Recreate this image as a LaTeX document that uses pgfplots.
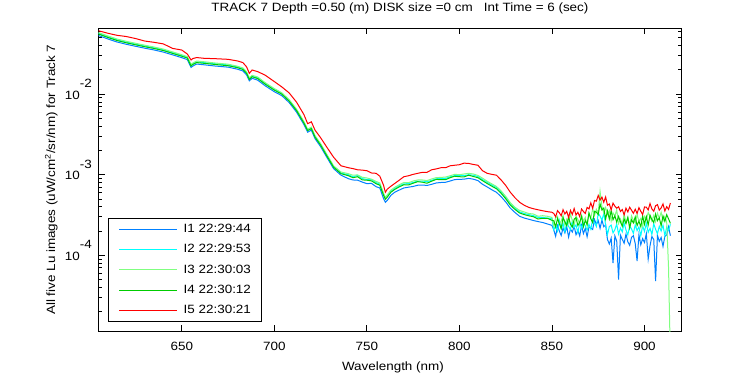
\documentclass[border=0pt]{standalone}
\usepackage{fontspec}
\setmainfont{Liberation Sans}[FakeStretch=1.12]
\usepackage{pgfplots}
\usepackage{pgfplotstable}
\pgfplotsset{compat=1.18}
\definecolor{cI1}{rgb}{0,0.5,1}
\definecolor{cI2}{rgb}{0,1,1}
\definecolor{cI3}{rgb}{0.5,1,0.5}
\definecolor{cI4}{rgb}{0,0.8,0}
\definecolor{cI5}{rgb}{1,0,0}
\newcommand{\tp}[1]{10\raisebox{11.5pt}{#1}}
\pgfplotstableread{
x I1 I2 I3 I4 I5
605 0.0533 0.0567 0.0580 0.0556 0.0611
610 0.0484 0.0515 0.0527 0.0505 0.0569
615 0.0443 0.0471 0.0482 0.0462 0.0536
620 0.0415 0.0442 0.0452 0.0433 0.0518
625 0.0392 0.0417 0.0427 0.0409 0.0489
630 0.0371 0.0395 0.0404 0.0387 0.0455
635 0.0353 0.0375 0.0384 0.0368 0.0439
640 0.0332 0.0354 0.0362 0.0347 0.0420
645 0.0307 0.0326 0.0334 0.0320 0.0369
650 0.0283 0.0301 0.0308 0.0295 0.0352
653 0.0268 0.0286 0.0292 0.0280 0.0314
655 0.0214 0.0227 0.0233 0.0223 0.0265
656 0.0223 0.0238 0.0243 0.0233 0.0276
658 0.0236 0.0251 0.0257 0.0246 0.0284
662 0.0231 0.0246 0.0252 0.0241 0.0278
668 0.0223 0.0238 0.0243 0.0233 0.0275
675 0.0216 0.0230 0.0235 0.0225 0.0270
680 0.0204 0.0217 0.0222 0.0213 0.0258
683 0.0194 0.0206 0.0211 0.0202 0.0246
685 0.0173 0.0185 0.0189 0.0181 0.0218
686.5 0.0146 0.0155 0.0159 0.0152 0.0181
688 0.0157 0.0167 0.0171 0.0164 0.0199
691 0.0149 0.0159 0.0163 0.0156 0.0190
695 0.0127 0.0136 0.0139 0.0133 0.0172
700 0.0107 0.0114 0.0117 0.0112 0.0143
704 0.00958 0.0102 0.0104 0.0100 0.0123
708 0.00785 0.00835 0.00855 0.00819 0.01035
712 0.00598 0.00636 0.00651 0.00624 0.00795
716 0.00418 0.00445 0.00455 0.00436 0.00556
718 0.00337 0.00359 0.00367 0.00352 0.00430
720 0.00357 0.00380 0.00389 0.00373 0.00453
722 0.00280 0.00298 0.00305 0.00292 0.00357
725 0.00223 0.00238 0.00243 0.00233 0.00288
728 0.00170 0.00181 0.00185 0.00177 0.00226
732 0.00119 0.00126 0.00129 0.00124 0.00165
736 0.000987 0.00105 0.00108 0.00103 0.00129
740 8.92e-4 1.00e-3 1.03e-3 9.72e-4 1.22e-3
742.5 8.60e-4 9.40e-4 9.85e-4 9.18e-4 1.19e-3
745 8.55e-4 9.80e-4 9.95e-4 9.44e-4 1.15e-3
747.5 8.10e-4 8.95e-4 9.30e-4 8.62e-4 1.14e-3
750 7.75e-4 8.70e-4 9.10e-4 8.55e-4 1.12e-3
752.5 7.80e-4 8.70e-4 8.80e-4 8.38e-4 1.05e-3
755 7.10e-4 8.00e-4 8.25e-4 7.73e-4 1.04e-3
757 6.85e-4 7.60e-4 7.90e-4 7.41e-4 9.58e-4
759 5.05e-4 5.75e-4 5.90e-4 5.56e-4 7.41e-4
760 4.55e-4 5.10e-4 5.20e-4 4.96e-4 6.06e-4
761 4.80e-4 5.40e-4 5.60e-4 5.25e-4 6.60e-4
762 5.15e-4 5.85e-4 6.00e-4 5.65e-4 6.90e-4
763 5.55e-4 6.25e-4 6.45e-4 6.06e-4 7.20e-4
765 6.05e-4 6.70e-4 6.95e-4 6.55e-4 7.77e-4
767.5 6.45e-4 7.30e-4 7.50e-4 7.06e-4 8.55e-4
770 6.85e-4 7.70e-4 8.00e-4 7.51e-4 9.44e-4
772.5 7.00e-4 7.75e-4 7.95e-4 7.46e-4 9.70e-4
775 7.15e-4 8.00e-4 8.35e-4 7.84e-4 1.01e-3
777.5 7.40e-4 8.35e-4 8.60e-4 8.19e-4 1.04e-3
780 7.45e-4 8.35e-4 8.60e-4 8.07e-4 1.07e-3
782.5 7.35e-4 8.20e-4 8.45e-4 7.84e-4 1.07e-3
785 7.60e-4 8.50e-4 8.85e-4 8.31e-4 1.15e-3
787.5 7.90e-4 8.90e-4 9.20e-4 8.74e-4 1.18e-3
790 8.00e-4 8.95e-4 9.25e-4 8.67e-4 1.22e-3
792.5 8.05e-4 9.00e-4 9.35e-4 8.67e-4 1.22e-3
795 8.35e-4 9.40e-4 9.70e-4 9.18e-4 1.29e-3
797.5 8.70e-4 9.75e-4 1.01e-3 9.58e-4 1.31e-3
800 8.75e-4 9.80e-4 1.00e-3 9.44e-4 1.33e-3
802.5 8.80e-4 9.70e-4 1.02e-3 9.39e-4 1.39e-3
805 9.00e-4 1.00e-3 1.04e-3 9.86e-4 1.38e-3
807.5 8.80e-4 9.85e-4 1.02e-3 9.51e-4 1.34e-3
810 8.45e-4 9.50e-4 9.80e-4 9.18e-4 1.31e-3
812.5 7.60e-4 8.70e-4 9.05e-4 8.43e-4 1.12e-3
815 7.05e-4 8.05e-4 8.30e-4 7.77e-4 1.04e-3
817.5 6.50e-4 7.45e-4 7.70e-4 7.20e-4 1.01e-3
820 6.05e-4 6.95e-4 7.15e-4 6.70e-4 9.86e-4
822.5 5.35e-4 6.10e-4 6.30e-4 5.89e-4 8.62e-4
825 4.60e-4 5.20e-4 5.40e-4 5.04e-4 7.37e-4
827.5 3.85e-4 4.35e-4 4.50e-4 4.20e-4 6.06e-4
830 3.40e-4 3.85e-4 3.95e-4 3.71e-4 5.19e-4
832.5 3.05e-4 3.45e-4 3.60e-4 3.35e-4 4.55e-4
835 2.90e-4 3.30e-4 3.45e-4 3.20e-4 4.18e-4
837.5 2.80e-4 3.20e-4 3.30e-4 3.09e-4 3.93e-4
840 2.70e-4 3.10e-4 3.25e-4 3.01e-4 3.78e-4
842.5 2.62e-4 2.95e-4 3.05e-4 2.82e-4 3.67e-4
845 2.55e-4 2.95e-4 3.10e-4 2.88e-4 3.57e-4
847.5 2.45e-4 2.90e-4 3.05e-4 2.88e-4 3.48e-4
850 2.35e-4 2.85e-4 2.95e-4 2.72e-4 3.42e-4
851 2.06e-4 2.07e-4 2.32e-4 2.68e-4 3.30e-4
852 1.72e-4 2.35e-4 2.92e-4 2.24e-4 3.00e-4
853 2.34e-4 2.00e-4 3.05e-4 2.86e-4 3.58e-4
854 2.00e-4 2.71e-4 2.43e-4 2.47e-4 3.37e-4
855 1.76e-4 2.14e-4 2.67e-4 2.14e-4 3.09e-4
856 2.18e-4 2.48e-4 3.13e-4 2.93e-4 3.68e-4
857 1.90e-4 1.96e-4 2.35e-4 2.60e-4 3.26e-4
858 2.26e-4 2.58e-4 2.81e-4 2.32e-4 3.51e-4
859 1.68e-4 2.28e-4 2.51e-4 3.01e-4 2.95e-4
860 2.12e-4 2.09e-4 3.24e-4 2.42e-4 3.61e-4
861 1.94e-4 2.67e-4 2.70e-4 2.24e-4 3.21e-4
862 2.30e-4 2.21e-4 2.35e-4 2.81e-4 3.80e-4
863 1.80e-4 2.39e-4 3.04e-4 2.94e-4 3.16e-4
864 2.04e-4 1.91e-4 2.79e-4 2.34e-4 3.42e-4
865 1.74e-4 2.53e-4 2.46e-4 2.57e-4 3.02e-4
866 2.36e-4 2.16e-4 3.15e-4 3.02e-4 3.75e-4
867 1.86e-4 2.62e-4 2.65e-4 2.26e-4 3.50e-4
868 2.16e-4 2.32e-4 2.95e-4 2.70e-4 3.30e-4
869 1.70e-4 2.05e-4 2.29e-4 2.42e-4 3.93e-4
870 2.24e-4 2.42e-4 3.30e-4 3.36e-4 3.76e-4
871 2.18e-4 2.11e-4 2.89e-4 2.84e-4 4.47e-4
872 2.09e-4 2.80e-4 3.78e-4 2.55e-4 3.82e-4
873 2.78e-4 2.52e-4 3.12e-4 3.52e-4 4.79e-4
874 2.40e-4 2.27e-4 3.71e-4 3.43e-4 4.70e-4
875 2.70e-4 3.34e-4 3.29e-4 3.20e-4 5.53e-4
876 2.16e-4 3.06e-4 6.20e-4 4.33e-4 4.84e-4
877 2.75e-4 2.73e-4 4.03e-4 3.65e-4 5.27e-4
878 2.26e-4 3.30e-4 3.36e-4 3.85e-4 4.55e-4
879 2.39e-4 2.38e-4 3.92e-4 2.82e-4 5.29e-4
880 1.57e-4 1.81e-4 3.22e-4 3.55e-4 4.18e-4
881 1.38e-4 2.27e-4 3.59e-4 2.82e-4 4.33e-4
882 1.63e-4 2.37e-4 2.67e-4 3.57e-4 3.67e-4
883 0.80e-4 1.89e-4 3.37e-4 2.76e-4 4.44e-4
884 1.74e-4 2.08e-4 3.08e-4 3.09e-4 4.07e-4
885 1.50e-4 2.44e-4 3.66e-4 2.58e-4 3.84e-4
886 0.50e-4 1.83e-4 2.48e-4 3.04e-4 4.00e-4
887 1.78e-4 2.18e-4 2.82e-4 2.60e-4 3.50e-4
888 1.58e-4 1.95e-4 2.40e-4 2.29e-4 3.70e-4
889 1.41e-4 2.52e-4 3.26e-4 2.83e-4 3.17e-4
890 1.83e-4 2.06e-4 2.57e-4 2.47e-4 3.85e-4
891 1.47e-4 1.79e-4 2.98e-4 2.94e-4 3.45e-4
892 1.33e-4 2.31e-4 2.35e-4 2.18e-4 3.95e-4
893 1.67e-4 2.12e-4 3.09e-4 2.76e-4 3.63e-4
894 1.75e-4 1.87e-4 2.73e-4 2.52e-4 3.32e-4
895 1.40e-4 2.39e-4 2.51e-4 2.99e-4 3.73e-4
896 0.85e-4 2.02e-4 3.20e-4 2.34e-4 3.30e-4
897 1.80e-4 2.25e-4 2.65e-4 2.65e-4 3.90e-4
898 1.35e-4 1.74e-4 2.87e-4 2.26e-4 3.52e-4
899 1.61e-4 2.33e-4 2.29e-4 3.07e-4 3.20e-4
900 1.44e-4 1.97e-4 3.04e-4 2.42e-4 3.98e-4
901 1.86e-4 2.50e-4 2.79e-4 3.02e-4 3.95e-4
902 0.90e-4 1.93e-4 3.39e-4 2.38e-4 3.65e-4
903 1.32e-4 2.16e-4 3.00e-4 3.14e-4 4.39e-4
904 1.71e-4 1.81e-4 2.64e-4 2.77e-4 3.76e-4
905 1.57e-4 2.46e-4 3.12e-4 2.55e-4 3.52e-4
906 0.48e-4 2.10e-4 2.61e-4 3.25e-4 4.12e-4
907 1.77e-4 1.85e-4 3.33e-4 2.69e-4 4.25e-4
908 1.49e-4 2.29e-4 2.88e-4 2.91e-4 3.63e-4
909 1.66e-4 2.00e-4 3.42e-4 2.32e-4 3.87e-4
910 1.29e-4 2.37e-4 2.67e-4 3.08e-4 4.34e-4
911 1.72e-4 1.76e-4 3.03e-4 2.63e-4 3.55e-4
912 1.79e-4 2.23e-4 2.58e-4 3.19e-4 4.01e-4
913 2.26e-4 2.04e-4 0.70e-4 2.83e-4 3.71e-4
914 1.75e-4 2.42e-4 0.05e-4 2.49e-4 4.45e-4
}\datatab
\begin{document}
\fontsize{12pt}{14pt}\selectfont
\begin{tikzpicture}
\begin{axis}[
  scale only axis, width=583pt, height=302.7pt,
  xmin=605, xmax=920, ymode=log, ymin=1.15e-5, ymax=0.0655,
  axis line style={line width=0.8pt, black},
  tick align=inside, major tick length=6pt, minor tick length=3.5pt,
  tick style={black, line width=0.8pt},
  xtick={650,700,750,800,850,900},
  xticklabels={650,700,750,800,850,900},
  ytick={1e-4,1e-3,1e-2},
  yticklabels={\tp{-4},\tp{-3},\tp{-2}},
  minor ytick={2e-5,3e-5,4e-5,5e-5,6e-5,7e-5,8e-5,9e-5,2e-4,3e-4,4e-4,5e-4,6e-4,7e-4,8e-4,9e-4,2e-3,3e-3,4e-3,5e-3,6e-3,7e-3,8e-3,9e-3,2e-2,3e-2,4e-2,5e-2,6e-2},
  xticklabel style={anchor=base, inner sep=0pt, yshift=-19pt},
  yticklabel style={anchor=base east, inner sep=0pt, xshift=-6.5pt, yshift=-5pt},
  xlabel={Wavelength (nm)},
  xlabel style={at={(axis description cs:0.505,0)}, anchor=base, inner sep=0pt, yshift=-39pt},
  ylabel={All five Lu images (uW/cm\textsuperscript{2}/sr/nm) for Track 7},
  ylabel style={at={(axis description cs:-0.0746,0.5)}, anchor=base, inner sep=0pt},
  title={TRACK 7 Depth =0.50 (m) DISK size =0 cm\ \ \ Int Time = 6 (sec)},
  title style={at={(axis description cs:0.517,1)}, anchor=base, inner sep=0pt, yshift=11.3pt},
  legend image code/.code={\draw[#1, line width=1pt] (0pt,0pt) -- (58pt,0pt);},
  legend cell align=left,
  legend style={at={(axis description cs:0.01715,0.0307)}, anchor=south west,
    draw=black, line width=0.8pt, inner xsep=10pt, inner ysep=6pt, row sep=10pt,
    nodes={inner sep=0pt},
    /tikz/every odd column/.append style={column sep=5.8pt}},
  every axis plot/.append style={line width=1pt, mark=none},
]
\addplot[cI1] table[x=x, y=I1] {\datatab};
\addplot[cI2] table[x=x, y=I2] {\datatab};
\addplot[cI3] table[x=x, y=I3] {\datatab};
\addplot[cI4] table[x=x, y=I4] {\datatab};
\addplot[cI5] table[x=x, y=I5] {\datatab};
\legend{I1 22:29:44, I2 22:29:53, I3 22:30:03, I4 22:30:12, I5 22:30:21}
\end{axis}
\pgfresetboundingbox
\path[use as bounding box] (-98.5pt,-44pt) rectangle (651.5pt,331pt);
\end{tikzpicture}
\end{document}
